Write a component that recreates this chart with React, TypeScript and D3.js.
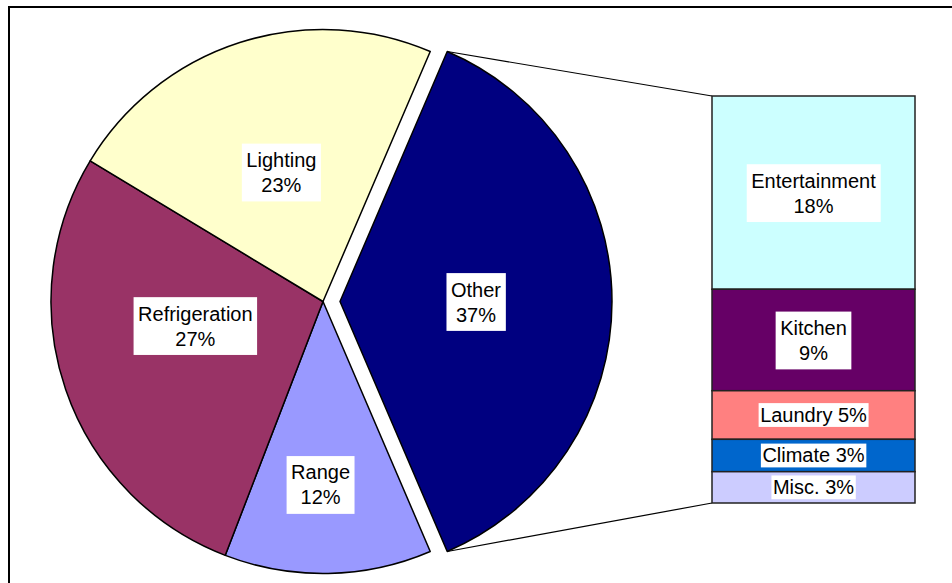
import React, { useEffect, useRef } from "react";
import * as d3 from "d3";

const pieCategories = ["Other", "Range", "Refrigeration", "Lighting"];
const pieValues = [37.1, 12.3, 27.8, 22.8];
const pieLabels = ["37%", "12%", "27%", "23%"];
const pieColors = ["#000080", "#9999FF", "#993366", "#FFFFCC"];

const barCategories = ["Entertainment", "Kitchen", "Laundry", "Climate", "Misc."];
const barValues = [17.9, 9.4, 4.5, 3.0, 2.9];
const barLabels = ["18%", "9%", "5%", "3%", "3%"];
const barColors = ["#CCFFFF", "#660066", "#FF8080", "#0066CC", "#CCCCFF"];
const barTwoLine = [true, true, false, false, false];

const W = 952;
const H = 583;
const FONT = "'Liberation Sans', Arial, Helvetica, sans-serif";

export default function App() {
  const ref = useRef<SVGSVGElement | null>(null);

  useEffect(() => {
    const svg = d3.select(ref.current);
    svg.selectAll("*").remove();

    // outer chart border (only top/left visible)
    svg
      .append("rect")
      .attr("x", 9)
      .attr("y", 7)
      .attr("width", W + 20)
      .attr("height", H + 20)
      .attr("fill", "#fff")
      .attr("stroke", "#000")
      .attr("stroke-width", 2);

    const cx = 323;
    const cy = 301.5;
    const r = 272;
    const explode = 17;

    const total = d3.sum(pieValues);
    const start = Math.PI / 2 - (pieValues[0] / total) * Math.PI;
    const pie = d3
      .pie<number>()
      .sort(null)
      .value((d) => d)
      .startAngle(start)
      .endAngle(start + 2 * Math.PI);
    const arcs = pie(pieValues);
    const arc = d3.arc<d3.PieArcDatum<number>>().innerRadius(0).outerRadius(r);

    const labelNudge: [number, number][] = [
      [0, 0],
      [-5, 47],
      [1, -20],
      [0, 0],
    ];

    const offsets = arcs.map((a, i) => {
      if (i !== 0) return [0, 0];
      const m = (a.startAngle + a.endAngle) / 2;
      return [explode * Math.sin(m), -explode * Math.cos(m)];
    });

    // connector lines
    const o = arcs[0];
    const ox = cx + offsets[0][0];
    const oy = cy + offsets[0][1];
    const barX0 = 712;
    const barX1 = 915;
    const barY0 = 96;
    const barY1 = 503;
    const p1 = [ox + r * Math.sin(o.startAngle), oy - r * Math.cos(o.startAngle)];
    const p2 = [ox + r * Math.sin(o.endAngle), oy - r * Math.cos(o.endAngle)];
    svg
      .append("line")
      .attr("x1", p1[0])
      .attr("y1", p1[1])
      .attr("x2", barX0)
      .attr("y2", barY0)
      .attr("stroke", "#000")
      .attr("stroke-width", 1.2);
    svg
      .append("line")
      .attr("x1", p2[0])
      .attr("y1", p2[1])
      .attr("x2", barX0)
      .attr("y2", barY1)
      .attr("stroke", "#000")
      .attr("stroke-width", 1.2);

    const pg = svg.append("g");
    arcs.forEach((a, i) => {
      pg.append("path")
        .attr("d", arc(a) as string)
        .attr("transform", `translate(${cx + offsets[i][0]},${cy + offsets[i][1]})`)
        .attr("fill", pieColors[i])
        .attr("stroke", "#000")
        .attr("stroke-width", 1.5)
        .attr("stroke-linejoin", "round");
    });

    // bar
    const barTotal = d3.sum(barValues);
    const y = d3.scaleLinear().domain([0, barTotal]).range([barY0, barY1]);
    const cum = d3.cumsum(barValues);
    const bg = svg.append("g");
    barValues.forEach((v, i) => {
      const a = i === 0 ? 0 : cum[i - 1];
      bg.append("rect")
        .attr("x", barX0)
        .attr("y", y(a))
        .attr("width", barX1 - barX0)
        .attr("height", y(cum[i]) - y(a))
        .attr("fill", barColors[i])
        .attr("stroke", "#222")
        .attr("stroke-width", 1.5);
    });

    const drawLabel = (x: number, yc: number, lines: string[]) => {
      const g = svg.append("g").attr("transform", `translate(${x},${yc})`);
      const rect = g.append("rect").attr("fill", "#fff");
      const t = g
        .append("text")
        .attr("font-family", FONT)
        .attr("font-size", 20)
        .attr("fill", "#000")
        .attr("text-anchor", "middle");
      if (lines.length === 2) {
        t.append("tspan").attr("x", 0).attr("y", -5).text(lines[0]);
        t.append("tspan").attr("x", 0).attr("y", 20).text(lines[1]);
      } else {
        t.append("tspan").attr("x", 0).attr("y", 7).text(lines[0]);
      }
      const bb = (t.node() as SVGTextElement).getBBox();
      const px = lines.length === 2 ? 4.5 : 1.5;
      const py = lines.length === 2 ? 5.4 : 0.9;
      rect
        .attr("x", bb.x - px)
        .attr("y", bb.y - py)
        .attr("width", bb.width + 2 * px)
        .attr("height", bb.height + 2 * py);
    };

    arcs.forEach((a, i) => {
      const c = arc.centroid(a);
      drawLabel(
        cx + offsets[i][0] + c[0] + labelNudge[i][0],
        cy + offsets[i][1] + c[1] + labelNudge[i][1],
        [pieCategories[i], pieLabels[i]]
      );
    });

    barValues.forEach((v, i) => {
      const a = i === 0 ? 0 : cum[i - 1];
      const yc = (y(a) + y(cum[i])) / 2;
      const xc = (barX0 + barX1) / 2;
      const lines = barTwoLine[i]
        ? [barCategories[i], barLabels[i]]
        : [`${barCategories[i]} ${barLabels[i]}`];
      drawLabel(xc, yc, lines);
    });
  }, []);

  return (
    <svg
      ref={ref}
      width={W}
      height={H}
      style={{ position: "absolute", left: 0, top: 0, display: "block" }}
    />
  );
}
